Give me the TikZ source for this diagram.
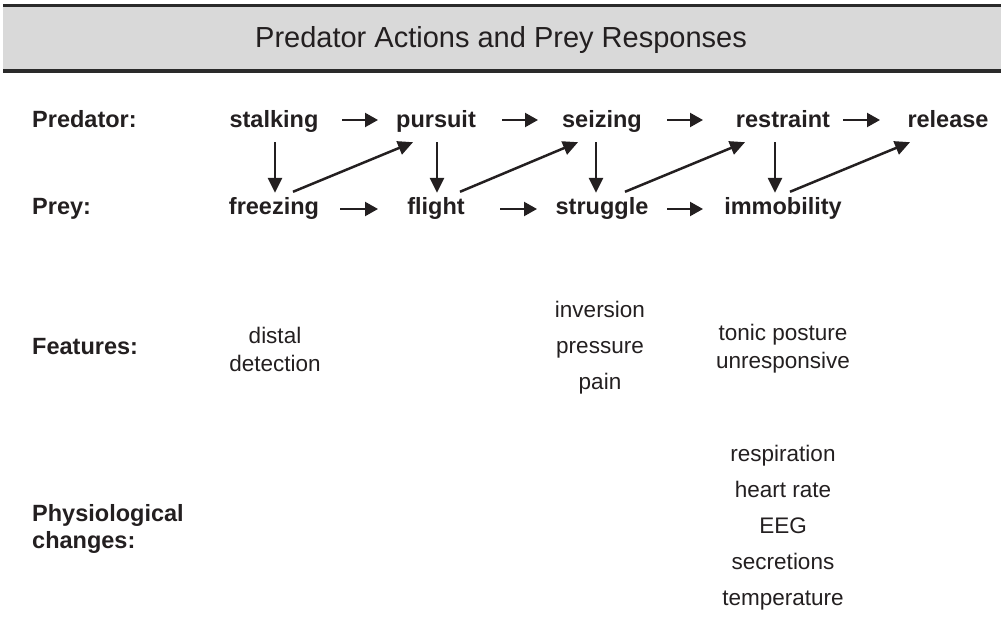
\documentclass[tikz,border=0pt]{standalone}
\usepackage{fontspec}
\setmainfont{Liberation Sans}
\usetikzlibrary{arrows.meta}
\definecolor{ink}{HTML}{231F20}
\definecolor{hdr}{HTML}{D9D9D9}
\definecolor{rule}{HTML}{2A2A2A}
\tikzset{
  bold/.style={font=\bfseries\fontsize{23.5}{27}\selectfont, text=ink, inner sep=0pt, text height=17pt, text depth=5pt},
  lefthead/.style={bold, anchor=west},
  plain/.style={font=\fontsize{22.5}{28}\selectfont, text=ink, inner sep=0pt, align=center},
  arr/.style={draw=ink, line width=2.5pt, -{Triangle[length=15pt,width=14pt]}},
  harr/.style={draw=ink, line width=2.2pt, -{Triangle[length=13pt,width=14pt]}}
}
\begin{document}
\begin{tikzpicture}[x=1pt,y=-1pt]
\useasboundingbox (0,0) rectangle (1001,620);
% header
\fill[hdr] (3,5) rectangle (1001,72);
\draw[rule, line width=3pt] (3,6) -- (1001,6);
\draw[rule, line width=3.5pt] (3,71) -- (1001,71);
\node[font=\fontsize{29}{33}\selectfont, text=ink, inner sep=0pt] (title) at (501,40) {Predator Actions and Prey Responses};
% row labels
\node[lefthead] (lpred) at (32,122) {Predator:};
\node[lefthead] (lprey) at (32,209) {Prey:};
\node[lefthead] (lfeat) at (32,348) {Features:};
\node[anchor=west, align=left, inner sep=0pt, text=ink, font=\bfseries\fontsize{23.5}{27}\selectfont] (lphys) at (32,529) {Physiological\\changes:};
% predator row
\node[bold] (stalking) at (274,122) {stalking};
\node[bold] (pursuit) at (436,122) {pursuit};
\node[bold] (seizing) at (602,122) {seizing};
\node[bold] (restraint) at (783,122) {restraint};
\node[bold] (release) at (948,122) {release};
% prey row
\node[bold] (freezing) at (274,209) {freezing};
\node[bold] (flight) at (436,209) {flight};
\node[bold] (struggle) at (602,209) {struggle};
\node[bold] (immobility) at (783,209) {immobility};
% horizontal arrows
\draw[harr] ([xshift=68pt,yshift=2pt]stalking.center) -- ([xshift=-58pt,yshift=2pt]pursuit.center);
\draw[harr] ([xshift=66pt,yshift=2pt]pursuit.center) -- ([xshift=-64pt,yshift=2pt]seizing.center);
\draw[harr] ([xshift=65pt,yshift=2pt]seizing.center) -- ([xshift=-80pt,yshift=2pt]restraint.center);
\draw[harr] ([xshift=60pt,yshift=2pt]restraint.center) -- ([xshift=-68pt,yshift=2pt]release.center);
\draw[harr] ([xshift=66pt,yshift=0pt]freezing.center) -- ([xshift=-58pt,yshift=0pt]flight.center);
\draw[harr] ([xshift=64pt,yshift=0pt]flight.center) -- ([xshift=-65pt,yshift=0pt]struggle.center);
\draw[harr] ([xshift=65pt,yshift=0pt]struggle.center) -- ([xshift=-80pt,yshift=0pt]immobility.center);
% vertical arrows
\draw[arr] ([xshift=1pt,yshift=-9pt]stalking.south) -- ([xshift=1pt,yshift=5pt]freezing.north);
\draw[arr] ([xshift=1pt,yshift=-9pt]pursuit.south) -- ([xshift=1pt,yshift=5pt]flight.north);
\draw[arr] ([xshift=-6pt,yshift=-9pt]seizing.south) -- ([xshift=-6pt,yshift=5pt]struggle.north);
\draw[arr] ([xshift=-8pt,yshift=-9pt]restraint.south) -- ([xshift=-8pt,yshift=5pt]immobility.north);
% diagonal arrows
\draw[arr] ([xshift=19pt,yshift=6pt]freezing.north) -- ([xshift=-23pt,yshift=-9pt]pursuit.south);
\draw[arr] ([xshift=24pt,yshift=6pt]flight.north) -- ([xshift=-24pt,yshift=-9pt]seizing.south);
\draw[arr] ([xshift=23pt,yshift=6pt]struggle.north) -- ([xshift=-38pt,yshift=-9pt]restraint.south);
\draw[arr] ([xshift=7pt,yshift=6pt]immobility.north) -- ([xshift=-38pt,yshift=-9pt]release.south);
% features
\node[plain] (distal) at (275,349) {distal\\detection};
\node[plain, font=\fontsize{22.5}{36}\selectfont] (invpp) at (600,348) {inversion\\pressure\\pain};
\node[plain] (tonic) at (783,349) {tonic posture\\unresponsive};
% physiological changes
\node[plain, font=\fontsize{22.5}{36}\selectfont] (physlist) at (783,528) {respiration\\heart rate\\EEG\\secretions\\temperature};
\end{tikzpicture}
\end{document}
